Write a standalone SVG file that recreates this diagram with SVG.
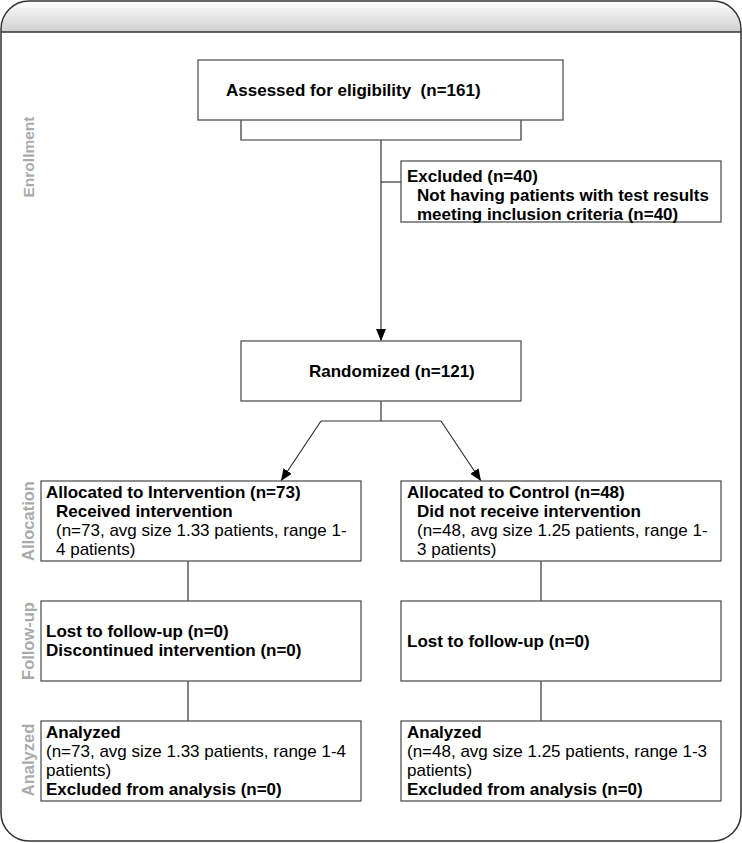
<svg xmlns="http://www.w3.org/2000/svg" width="742" height="843" viewBox="0 0 742 843">
<defs>
<linearGradient id="hdr" x1="0" y1="0" x2="0" y2="1">
<stop offset="0" stop-color="#ffffff"/>
<stop offset="1" stop-color="#cfcfcf"/>
</linearGradient>
<marker id="arr" viewBox="0 0 12 10" refX="12" refY="5" markerWidth="12" markerHeight="10" markerUnits="userSpaceOnUse" orient="auto">
<path d="M0,0 L12,5 L0,10 Z" fill="#000"/>
</marker>
<style>
.box{fill:#fff;stroke:#555;stroke-width:1.3}
.t{font-family:"Liberation Sans",Arial,sans-serif;font-size:17px;fill:#000}
.b{font-weight:bold}
.side{font-family:"Liberation Sans",Arial,sans-serif;font-size:16.5px;font-weight:bold;fill:#aaa}
.c{fill:none;stroke:#333;stroke-width:1.2}
</style>
</defs>
<g id="frame">
<path d="M1,32 V29 A28,28 0 0 1 29,1 H713 A28,28 0 0 1 741,29 V32 Z" fill="url(#hdr)"/>
<rect x="1" y="1" width="740" height="840" rx="28" ry="28" fill="none" stroke="#333" stroke-width="1.5"/>
<line x1="1" y1="32" x2="741" y2="32" stroke="#333" stroke-width="1.3"/>
</g>
<g id="side-labels">
<text class="side" transform="translate(34,157) rotate(-90)" text-anchor="middle" style="font-size:15.5px">Enrollment</text>
<text class="side" transform="translate(34,521) rotate(-90)" text-anchor="middle">Allocation</text>
<text class="side" transform="translate(34,641) rotate(-90)" text-anchor="middle">Follow-up</text>
<text class="side" transform="translate(34,760) rotate(-90)" text-anchor="middle">Analyzed</text>
</g>
<g id="connectors">
<path class="c" d="M241,120 V140 H521 V120"/>
<line class="c" x1="381" y1="140" x2="381" y2="341" marker-end="url(#arr)"/>
<line class="c" x1="381" y1="182" x2="401" y2="182"/>
<path class="c" d="M381,401 V421"/>
<path class="c" d="M321,421 H441"/>
<line class="c" x1="321" y1="421" x2="281" y2="481" marker-end="url(#arr)"/>
<line class="c" x1="441" y1="421" x2="481" y2="481" marker-end="url(#arr)"/>
<line class="c" x1="188" y1="561" x2="188" y2="601"/>
<line class="c" x1="541" y1="561" x2="541" y2="601"/>
<line class="c" x1="188" y1="681" x2="188" y2="721"/>
<line class="c" x1="541" y1="681" x2="541" y2="721"/>
</g>
<g id="assessed">
<rect class="box" x="198" y="60" width="365" height="60"/>
<text class="t b" x="226" y="96" xml:space="preserve">Assessed for eligibility  (n=161)</text>
</g>
<g id="excluded">
<rect class="box" x="401" y="161" width="320" height="61"/>
<text class="t b" x="407" y="182">Excluded (n=40)</text>
<text class="t b" x="417" y="201">Not having patients with test results</text>
<text class="t b" x="417" y="220">meeting inclusion criteria (n=40)</text>
</g>
<g id="randomized">
<rect class="box" x="241" y="341" width="280" height="60"/>
<text class="t b" x="309" y="377">Randomized (n=121)</text>
</g>
<g id="alloc-intervention">
<rect class="box" x="41" y="481" width="320" height="80"/>
<text class="t b" x="46" y="498">Allocated to Intervention (n=73)</text>
<text class="t b" x="56" y="517">Received intervention</text>
<text class="t" x="56" y="536">(n=73, avg size 1.33 patients, range 1-</text>
<text class="t" x="56" y="555">4 patients)</text>
</g>
<g id="alloc-control">
<rect class="box" x="401" y="481" width="320" height="80"/>
<text class="t b" x="407" y="498">Allocated to Control (n=48)</text>
<text class="t b" x="417" y="517">Did not receive intervention</text>
<text class="t" x="417" y="536">(n=48, avg size 1.25 patients, range 1-</text>
<text class="t" x="417" y="555">3 patients)</text>
</g>
<g id="followup-intervention">
<rect class="box" x="41" y="601" width="320" height="80"/>
<text class="t b" x="46" y="637">Lost to follow-up (n=0)</text>
<text class="t b" x="46" y="656">Discontinued intervention (n=0)</text>
</g>
<g id="followup-control">
<rect class="box" x="401" y="601" width="320" height="80"/>
<text class="t b" x="407" y="647">Lost to follow-up (n=0)</text>
</g>
<g id="analyzed-intervention">
<rect class="box" x="41" y="721" width="320" height="80"/>
<text class="t b" x="46" y="738">Analyzed</text>
<text class="t" x="46" y="757">(n=73, avg size 1.33 patients, range 1-4</text>
<text class="t" x="46" y="776">patients)</text>
<text class="t b" x="46" y="795">Excluded from analysis (n=0)</text>
</g>
<g id="analyzed-control">
<rect class="box" x="401" y="721" width="320" height="80"/>
<text class="t b" x="407" y="738">Analyzed</text>
<text class="t" x="407" y="757">(n=48, avg size 1.25 patients, range 1-3</text>
<text class="t" x="407" y="776">patients)</text>
<text class="t b" x="407" y="795">Excluded from analysis (n=0)</text>
</g>
</svg>
